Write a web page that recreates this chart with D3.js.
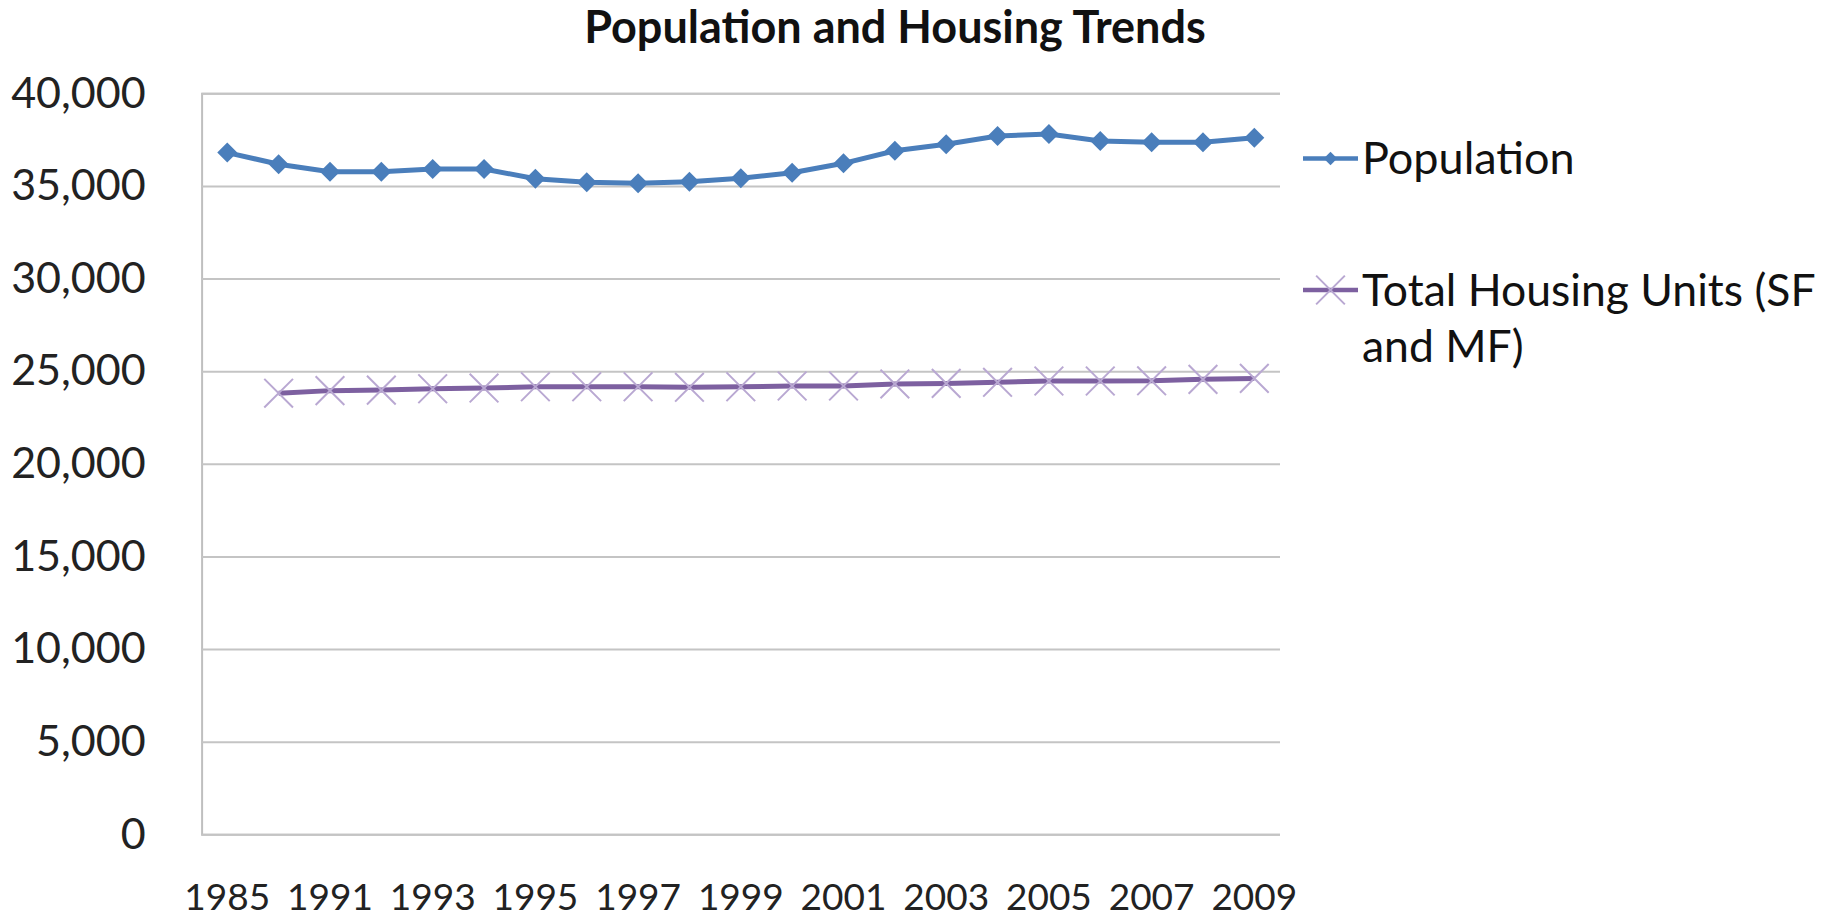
<!DOCTYPE html>
<html><head><meta charset="utf-8">
<script src="https://cdn.jsdelivr.net/npm/d3@7"></script>
<style>html,body{margin:0;padding:0;background:#fff;}svg{display:block;}</style>
</head><body>
<svg id="c" width="1828" height="921"></svg>
<script>
const categories = ["1985","1990","1991","1992","1993","1994","1995","1996","1997","1998","1999","2000","2001","2002","2003","2004","2005","2006","2007","2008","2009"];
const tickLabels = ["1985","1991","1993","1995","1997","1999","2001","2003","2005","2007","2009"];
const population = [36800,36170,35770,35770,35910,35910,35390,35200,35140,35230,35410,35710,36220,36900,37250,37700,37800,37430,37360,37360,37600];
const housing = [null,23810,23950,23980,24050,24090,24160,24160,24160,24130,24160,24200,24200,24310,24340,24400,24470,24470,24480,24560,24610];
const yTicks = [0,5000,10000,15000,20000,25000,30000,35000,40000];
const seriesNames = ["Population","Total Housing Units (SF|and MF)"];

const FONT = "Lato, 'Open Sans', sans-serif";
const svg = d3.select("#c");
const x = d3.scaleBand().domain(categories).range([201.6, 1280]);
const cx = d => x(d) + x.bandwidth()/2;
const y = d3.scaleLinear().domain([0,40000]).range([834.3, 93.3]);

// gridlines
const yAxis = d3.axisLeft(y).tickValues(yTicks).tickSize(-(1280-201.6)).tickFormat(d3.format(","));
const gy = svg.append("g").attr("transform","translate(201.6,0)").call(yAxis);
gy.select(".domain").attr("stroke","#bfbfbf").attr("stroke-width",2);
gy.selectAll(".tick line").attr("stroke","#c4c4c4").attr("stroke-width",2);
gy.selectAll(".tick text").attr("x",-56).attr("font-family",FONT).attr("font-size",43).attr("fill","#222");

const xAxis = d3.axisBottom(x).tickValues(tickLabels).tickSize(0).tickPadding(0);
const gx = svg.append("g").attr("transform","translate(0,834.3)").call(xAxis);
gx.select(".domain").remove();
gx.selectAll(".tick text").attr("y",63).attr("dy","0.35em").attr("font-family",FONT).attr("font-size",37).attr("fill","#222");

// title
svg.append("text").attr("x",895).attr("y",27).attr("dy","0.35em").attr("text-anchor","middle")
  .attr("font-family",FONT).attr("font-weight","bold").attr("font-size",45).attr("fill","#111")
  .text("Population and Housing Trends");

const popColor = "#4a7ebb", houseColor = "#7d60a0", xMarkColor = "#b9a8d2";
const diamond = d3.symbol(d3.symbolSquare, 200);
const diamondLg = d3.symbol(d3.symbolSquare, 90);
const xmark = d3.symbol(d3.symbolX, 540);

// housing
const hData = categories.map((c,i)=>({c, v:housing[i]})).filter(d=>d.v!=null);
svg.append("path").datum(hData).attr("fill","none").attr("stroke",houseColor).attr("stroke-width",5)
  .attr("d", d3.line().x(d=>cx(d.c)).y(d=>y(d.v)));
svg.append("g").selectAll("path").data(hData).join("path")
  .attr("transform", d=>`translate(${cx(d.c)},${y(d.v)})`).attr("d", xmark())
  .attr("fill","none").attr("stroke",xMarkColor).attr("stroke-width",2);

// population
const pData = categories.map((c,i)=>({c, v:population[i]}));
svg.append("path").datum(pData).attr("fill","none").attr("stroke",popColor).attr("stroke-width",5)
  .attr("d", d3.line().x(d=>cx(d.c)).y(d=>y(d.v)));
svg.append("g").selectAll("path").data(pData).join("path")
  .attr("transform", d=>`translate(${cx(d.c)},${y(d.v)}) rotate(45)`).attr("d", diamond())
  .attr("fill",popColor);

// legend
const lg = svg.append("g");
lg.append("line").attr("x1",1303).attr("x2",1358).attr("y1",158.5).attr("y2",158.5).attr("stroke",popColor).attr("stroke-width",4.5);
lg.append("path").attr("transform","translate(1330.5,158.5) rotate(45)").attr("d",diamondLg()).attr("fill",popColor);
lg.append("text").attr("x",1362).attr("y",158.5).attr("dy","0.35em").attr("font-family",FONT).attr("font-size",45).attr("fill","#111").text(seriesNames[0]);

lg.append("line").attr("x1",1303).attr("x2",1358).attr("y1",290).attr("y2",290).attr("stroke",houseColor).attr("stroke-width",4.5);
lg.append("path").attr("transform","translate(1330.5,290)").attr("d",xmark()).attr("fill","none").attr("stroke",xMarkColor).attr("stroke-width",2);
const parts = seriesNames[1].split("|");
lg.append("text").attr("x",1362).attr("y",290).attr("dy","0.35em").attr("font-family",FONT).attr("font-size",44.5).attr("fill","#111").text(parts[0]);
lg.append("text").attr("x",1362).attr("y",346).attr("dy","0.35em").attr("font-family",FONT).attr("font-size",44.5).attr("fill","#111").text(parts[1]);
</script>
</body></html>
